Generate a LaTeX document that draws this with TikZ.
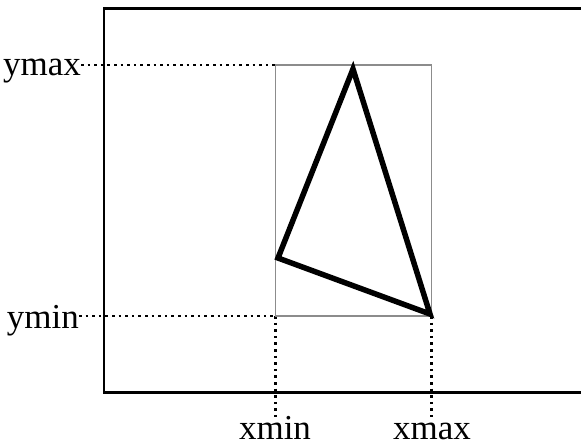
\documentclass[tikz,border=0pt]{standalone}
\usepackage{fontspec}
\setmainfont{Liberation Serif}
\begin{document}
\begin{tikzpicture}[x=1pt,y=-1pt,
  lbl/.style={inner sep=0pt,font=\fontsize{35}{40}\selectfont},
  guide/.style={line width=2.6pt,dash pattern=on 2.6pt off 4pt},
  bbox/.style={draw=gray!90,line width=1.8pt},
  tri/.style={draw=black,line width=5.5pt,line join=miter}]
\useasboundingbox (0,0) rectangle (581,445);
\coordinate (obl) at (104,392.5);
\coordinate (otl) at (104,8.5);
\coordinate (obr) at (700,392.5);
\coordinate (otr) at (700,8.5);
\draw[line width=2.2pt] (obr) -- (obl) -- (otl) -- (otr);
\coordinate (bl) at (275.5,316);
\coordinate (br) at (431.5,316);
\coordinate (tl) at (275.5,65);
\coordinate (tr) at (431.5,65);
\node[lbl,anchor=base east] (ymax) at (81,75) {ymax};
\node[lbl,anchor=base east] (ymin) at (79,328) {ymin};
\node[lbl,anchor=base] (xmin) at (275,439) {xmin};
\node[lbl,anchor=base] (xmax) at (432,439) {xmax};
\coordinate (xminend) at (275.5,417);
\coordinate (xmaxend) at (431.5,417);
\draw[guide] (ymax.base east) ++(0,-10) -- (tl);
\draw[guide] (ymin.base east) ++(0,-12) -- (bl);
\draw[guide] (bl) -- (xminend);
\draw[guide] (br) -- (xmaxend);
\draw[bbox] (tl) rectangle (br);
\coordinate (a) at (353,69);
\coordinate (b) at (278,258);
\coordinate (c) at (430,314);
\draw[tri] (a) -- (b) -- (c) -- cycle;
\end{tikzpicture}
\end{document}
